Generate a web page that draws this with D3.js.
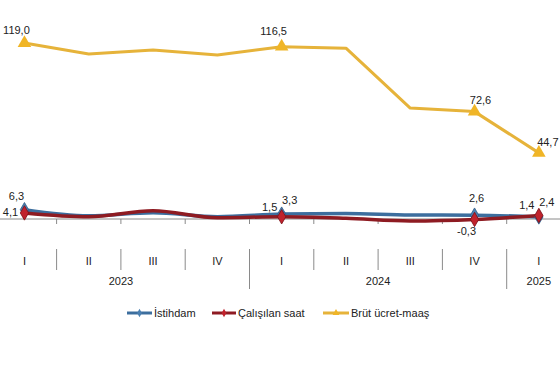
<!DOCTYPE html>
<html>
<head>
<meta charset="utf-8">
<script src="https://cdn.jsdelivr.net/npm/d3@7"></script>
<style>
  html, body { margin: 0; padding: 0; background: #fff; }
  svg { display: block; font-family: "Liberation Sans", Arial, sans-serif; }
</style>
</head>
<body>
<svg id="chart" width="560" height="380"></svg>
<script>
// ---- data ----
const quarters = ["I", "II", "III", "IV", "I", "II", "III", "IV", "I"];
const years = ["2023", "2024", "2025"];
const yearSpans = [4, 4, 1];
const istihdam = [6.3, 2.2, 4.3, 1.6, 3.3, 3.8, 2.7, 2.6, 1.4];
const calisilanSaat = [4.1, 1.5, 5.6, 0.9, 1.5, 0.5, -1.3, -0.3, 2.4];
const brutUcret = [119.0, 111.5, 114.2, 110.8, 116.5, 115.5, 75.0, 72.6, 44.7];
const seriesNames = ["İstihdam", "Çalışılan saat", "Brüt ücret-maaş"];
const labelledIdx = [0, 4, 7, 8];

// ---- setup ----
const svg = d3.select("#chart");
const idx = d3.range(quarters.length);
const x = d3.scaleBand().domain(idx).range([-7.7, 571]).paddingInner(0).paddingOuter(0);
const cx = i => x(i) + x.bandwidth() / 2;
const y = d3.scaleLinear().domain([0, 120]).range([219, 41.5]);
const fmt = v => d3.format(".1f")(v).replace(".", ",").replace("\u2212", "-");

const colors = { ist: "#3c6e9e", cal: "#8e1b22", brut: "#e6b33a" };
const markerFill = { ist: "#4a7fb0", cal: "#c0222c", brut: "#f0b526" };

// ---- axis ----
const y0 = y(0);
svg.append("line").attr("x1", 0).attr("x2", 560).attr("y1", y0).attr("y2", y0)
  .attr("stroke", "#8a8a8a").attr("stroke-width", 1);
const boundaries = idx.slice(1).map(i => x(i));
svg.selectAll(".tick").data(boundaries).join("line")
  .attr("x1", d => d).attr("x2", d => d).attr("y1", y0).attr("y2", y0 + 5)
  .attr("stroke", "#8a8a8a");
// separators in label area
let cum = 0;
const yearEnds = yearSpans.map(s => (cum += s));
svg.selectAll(".sep").data(idx.slice(1)).join("line")
  .attr("x1", i => x(i)).attr("x2", i => x(i))
  .attr("y1", 249)
  .attr("y2", i => yearEnds.includes(i) ? 289 : 270)
  .attr("stroke", "#8a8a8a");
svg.selectAll(".qlab").data(idx).join("text")
  .attr("x", cx).attr("y", 265).attr("text-anchor", "middle")
  .attr("font-size", 11).attr("fill", "#222").text(i => quarters[i]);
let start = 0;
years.forEach((yr, k) => {
  const s = start, e = start + yearSpans[k] - 1;
  start += yearSpans[k];
  const mid = (cx(s) + cx(e)) / 2;
  svg.append("text").attr("x", mid).attr("y", 285).attr("text-anchor", "middle")
    .attr("font-size", 11).attr("fill", "#222").text(yr);
});

// ---- lines ----
const lineSmooth = d3.line().x((d, i) => cx(i)).y(d => y(d)).curve(d3.curveMonotoneX);
const lineStraight = d3.line().x((d, i) => cx(i)).y(d => y(d));

svg.append("path").datum(brutUcret).attr("d", lineStraight)
  .attr("fill", "none").attr("stroke", colors.brut).attr("stroke-width", 3)
  .attr("stroke-linejoin", "round");
svg.append("path").datum(istihdam).attr("d", lineSmooth)
  .attr("fill", "none").attr("stroke", colors.ist).attr("stroke-width", 3.5);
svg.append("path").datum(calisilanSaat).attr("d", lineSmooth)
  .attr("fill", "none").attr("stroke", colors.cal).attr("stroke-width", 3.5);

// ---- markers ----
const diamond = d3.symbol().type(d3.symbolDiamond).size(60);
const triangle = d3.symbol().type(d3.symbolTriangle).size(80);
svg.selectAll(".mb").data(labelledIdx).join("path")
  .attr("d", triangle).attr("transform", i => `translate(${cx(i)},${y(brutUcret[i])})`)
  .attr("fill", markerFill.brut);
svg.selectAll(".mi").data(labelledIdx).join("path")
  .attr("d", diamond).attr("transform", i => `translate(${cx(i)},${y(istihdam[i])})`)
  .attr("fill", markerFill.ist).attr("stroke", "#2f5a85").attr("stroke-width", 0.8);
svg.selectAll(".mc").data(labelledIdx).join("path")
  .attr("d", diamond).attr("transform", i => `translate(${cx(i)},${y(calisilanSaat[i])})`)
  .attr("fill", markerFill.cal).attr("stroke", "#7a1018").attr("stroke-width", 0.8);

// ---- data labels ----
function label(xp, yp, t) {
  svg.append("text").attr("x", xp).attr("y", yp).attr("text-anchor", "middle")
    .attr("font-size", 11).attr("fill", "#222").text(t);
}
// brut labels
const brutOff = { 0: [-8, -9], 4: [-8, -12], 7: [6, -8], 8: [9, -7] };
labelledIdx.forEach(i => label(cx(i) + brutOff[i][0], y(brutUcret[i]) + brutOff[i][1], fmt(brutUcret[i])));
// istihdam labels
const istPos = { 0: [-8, -10], 4: [8, -10], 7: [2, -13], 8: [-12, -8] };
labelledIdx.forEach(i => label(cx(i) + istPos[i][0], y(istihdam[i]) + istPos[i][1], fmt(istihdam[i])));
// calisilan labels
const calPos = { 0: [-14, 3], 4: [-12, -6], 7: [-8, 16], 8: [8, -9] };
labelledIdx.forEach(i => label(cx(i) + calPos[i][0], y(calisilanSaat[i]) + calPos[i][1], fmt(calisilanSaat[i])));

// ---- legend ----
const legend = [
  { name: seriesNames[0], color: colors.ist, mk: markerFill.ist, x1: 127, x2: 152, tx: 154, tri: false },
  { name: seriesNames[1], color: colors.cal, mk: markerFill.cal, x1: 212, x2: 236, tx: 238, tri: false },
  { name: seriesNames[2], color: colors.brut, mk: markerFill.brut, x1: 323, x2: 349, tx: 351, tri: true }
];
const ly = 313;
legend.forEach(l => {
  svg.append("line").attr("x1", l.x1).attr("x2", l.x2).attr("y1", ly).attr("y2", ly)
    .attr("stroke", l.color).attr("stroke-width", 3);
  svg.append("path").attr("d", d3.symbol().type(l.tri ? d3.symbolTriangle : d3.symbolDiamond).size(20))
    .attr("transform", `translate(${(l.x1 + l.x2) / 2},${ly})`).attr("fill", l.mk);
  svg.append("text").attr("x", l.tx).attr("y", ly + 4).attr("font-size", 11)
    .attr("fill", "#222").text(l.name);
});
</script>
</body>
</html>
